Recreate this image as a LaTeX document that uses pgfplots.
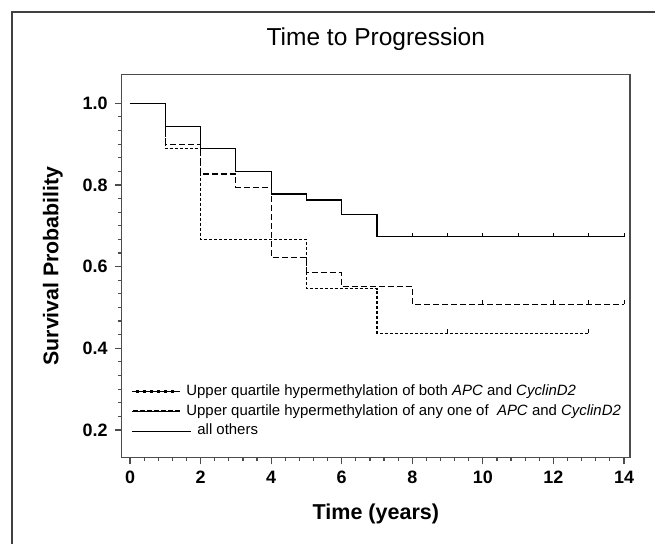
\documentclass[border=0pt]{standalone}
\usepackage{fontspec}
\setmainfont{Liberation Sans}
\usepackage{pgfplots}
\pgfplotsset{compat=1.18}
\pgfdeclareplotmark{cens}{\pgfpathmoveto{\pgfpointorigin}\pgfpathlineto{\pgfpoint{0pt}{\pgfplotmarksize}}\pgfusepathqstroke}
\definecolor{axgray}{gray}{0.3}
\begin{document}
\begin{tikzpicture}
\useasboundingbox (-60.85bp,-43.35bp) rectangle (266.65bp,228.65bp);
\draw[line width=0.9pt, black!75] (-54.85bp,-50bp) -- (-54.85bp,222.65bp) -- (280bp,222.65bp);
\begin{axis}[
  at={(0,0)}, anchor=south west,
  scale only axis, width=254.15bp, height=191.3bp,
  xmin=-0.235, xmax=14.17, ymin=0.133, ymax=1.070,
  axis line style={axgray, line width=0.8pt},
  xtick={0,2,4,6,8,10,12,14}, ytick={0.2,0.4,0.6,0.8,1.0},
  minor x tick num=4, minor y tick num=5,
  tick align=outside, xtick pos=bottom, ytick pos=left,
  major tick length=3.5bp, minor tick length=2bp,
  every tick/.style={axgray, line width=0.6pt},
  /pgf/number format/assume math mode=true,
  tick label style={font=\fontsize{9}{10}\selectfont\bfseries},
  yticklabel style={/pgf/number format/.cd, fixed, fixed zerofill, precision=1},
  title={Time to Progression},
  title style={at={(axis description cs:0.5,1)}, anchor=base, yshift=8.85bp, font=\fontsize{12.3}{14}\selectfont},
  xlabel={Time (years)},
  xlabel style={at={(axis description cs:0.5,-0.1482)}, anchor=center, font=\fontsize{10.8}{12}\selectfont\bfseries},
  ylabel={Survival Probability},
  ylabel style={at={(axis description cs:-0.1352,0.5)}, anchor=center, font=\fontsize{10.7}{12}\selectfont\bfseries},
  legend style={draw=none, fill=none, at={(0,0)}, anchor=south west, font=\fontsize{7.5}{8.5}\selectfont,
    inner xsep=5bp, inner ysep=7.5bp, row sep=-1bp,
    /tikz/every even column/.append style={column sep=2.5bp}},
  legend cell align=left,
]
% all others
\addplot[const plot, black, line width=0.6pt, forget plot] coordinates {
 (0,1) (1,0.944) (2,0.889) (3,0.833) (4,0.778) (5,0.763) (6,0.727) (7,0.673) (14,0.673)};
% any one of APC and CyclinD2
\addplot[const plot, black, line width=0.6pt, dash pattern=on 3bp off 1.5bp, forget plot] coordinates {
 (0,1) (1,0.900) (2,0.827) (3,0.794) (4,0.622) (5,0.585) (6,0.551) (8,0.508) (14,0.508)};
% both APC and CyclinD2
\addplot[const plot, black, line width=0.6pt, dash pattern=on 1.5bp off 1bp, forget plot] coordinates {
 (0,1) (1,0.889) (2,0.667) (5,0.546) (7,0.437) (13,0.437)};
% censoring marks
\addplot[only marks, mark=cens, mark size=2bp, black, line width=0.5pt, forget plot] coordinates {
 (8,0.673) (9,0.673) (10,0.673) (11,0.673) (12,0.673) (13,0.673) (14,0.673)};
\addplot[only marks, mark=cens, mark size=2bp, black, line width=0.5pt, forget plot] coordinates {
 (10,0.508) (12,0.508) (13,0.508) (14,0.508)};
\addplot[only marks, mark=cens, mark size=2bp, black, line width=0.5pt, forget plot] coordinates {
 (9,0.437) (13,0.437)};
\addlegendimage{legend image code/.code={\path (0,0) -- (24bp,0); \draw[line width=1.3bp, dash pattern=on 1.1bp off 2.4bp] (2bp,0) -- (21bp,0);}}
\addlegendentry{Upper quartile hypermethylation of both \textit{APC} and \textit{CyclinD2}}
\addlegendimage{legend image code/.code={\path (0,0) -- (24bp,0); \draw[line width=0.9pt, dash pattern=on 2.5bp off 1bp] (0.5bp,0) -- (24.5bp,0);}}
\addlegendentry{Upper quartile hypermethylation of any one of\ \ \textit{APC} and \textit{CyclinD2}}
\addlegendimage{legend image code/.code={\path (0,0) -- (24bp,0); \draw[overlay, line width=0.5pt] (0,0) -- (29.5bp,0);}}
\addlegendentry{\hspace{5.5bp}all others}
\end{axis}
\end{tikzpicture}
\end{document}
